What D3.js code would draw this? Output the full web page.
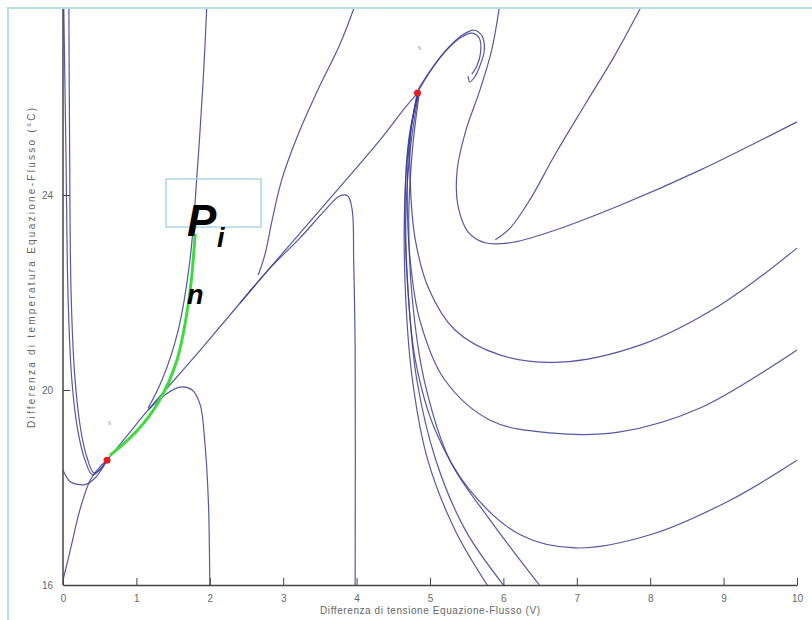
<!DOCTYPE html>
<html><head><meta charset="utf-8">
<script src="https://cdn.jsdelivr.net/npm/d3@7"></script>
<style>body{margin:0;background:#fff}svg{display:block}</style>
</head><body>
<svg id="c" width="812" height="620"></svg>
<script>
// ---- data (x: difference, y: temperature difference) ----
const xTicks = [0,1,2,3,4,5,6,7,8,9,10];
const yTicks = [16,20,24];
const xTickLabels = ["0","1","2","3","4","5","6","7","8","9","10"];
const yTickLabels = ["16","20","24"];
const equilibria = [[0.60,18.56],[4.83,26.09]];
const greenSegment = [[0.64,18.66],[1.00,19.15],[1.30,19.75],[1.55,20.60],[1.72,21.90],[1.80,23.20]];
const curveLeftTop = [[0.01,27.9],[0.04,24.9],[0.07,21.85],[0.12,20.21],[0.20,19.18],[0.30,18.56],[0.40,18.26],[0.50,18.36],[0.60,18.56]];
const curveLeftTop2 = [[0.08,27.9],[0.09,25.0],[0.11,22.0],[0.16,20.3],[0.24,19.2],[0.33,18.6],[0.42,18.3],[0.52,18.4],[0.60,18.56]];
const curveLeftHook = [[0.0,18.36],[0.10,18.12],[0.30,18.06],[0.44,18.20],[0.60,18.56]];
const curveBottomLeft = [[0.0,16.1],[0.10,16.72],[0.23,17.54],[0.37,18.15],[0.50,18.42],[0.60,18.56]];
const mainLine = [[0.60,18.56],[0.91,19.13],[1.16,19.59],[1.87,20.82],[2.68,22.26],[3.50,23.69],[4.32,25.13],[4.66,25.79],[4.83,26.09]];
const curveTop2 = [[1.96,27.9],[1.91,26.36],[1.83,24.51],[1.73,22.67],[1.57,21.23],[1.35,20.21],[1.16,19.63]];
const humpLow = [[1.16,19.59],[1.39,19.9],[1.59,20.06],[1.76,20.0],[1.87,19.69],[1.93,18.97],[1.98,17.74],[2.00,16.0]];
const humpHigh = [[2.41,21.78],[2.82,22.50],[3.23,23.12],[3.57,23.69],[3.77,23.98],[3.88,23.98],[3.94,23.69],[3.96,22.67],[3.98,20.82],[3.98,16.0]];
const curveTop4 = [[3.98,27.9],[3.77,27.08],[3.47,26.15],[3.20,25.23],[2.98,24.31],[2.85,23.49],[2.75,22.77],[2.66,22.36]];
const spiral = [[4.84,26.17],[5.03,26.61],[5.25,27.02],[5.44,27.28],[5.60,27.38],[5.71,27.26],[5.74,26.97],[5.68,26.65],[5.60,26.40],[5.54,26.32],[5.52,26.44]];
const spiral2 = [[4.81,26.05],[4.97,26.46],[5.20,26.93],[5.41,27.22],[5.57,27.32],[5.67,27.22],[5.69,26.93],[5.64,26.65],[5.57,26.48]];
const fan1 = [[5.95,27.9],[5.84,26.97],[5.68,26.15],[5.49,25.33],[5.37,24.51],[5.38,23.79],[5.52,23.24],[5.75,23.02],[6.09,23.02],[6.63,23.24],[7.59,23.79],[8.68,24.51],[10.0,25.5]];
const curveTop5 = [[7.89,27.9],[7.52,26.87],[7.11,25.85],[6.70,24.82],[6.36,23.90],[6.09,23.32],[5.89,23.08]];
const fan2 = [[4.84,26.11],[4.74,25.33],[4.73,24.31],[4.80,23.08],[4.99,22.05],[5.34,21.23],[5.95,20.72],[6.77,20.57],[7.86,20.92],[8.95,21.74],[10.0,22.91]];
const fan3 = [[4.84,26.11],[4.73,25.23],[4.69,24.10],[4.73,22.67],[4.86,21.44],[5.20,20.21],[5.82,19.38],[6.63,19.12],[7.59,19.14],[8.68,19.63],[10.0,20.82]];
const fan4 = [[4.84,26.11],[4.71,25.13],[4.66,23.90],[4.69,22.26],[4.80,20.62],[5.07,19.18],[5.54,17.95],[6.23,17.03],[6.98,16.76],[8.00,17.03],[9.09,17.74],[10.0,18.56]];
const fan5 = [[4.82,26.05],[4.70,24.92],[4.65,23.49],[4.67,21.85],[4.76,20.21],[4.97,18.56],[5.34,17.13],[5.78,16.0]];
const fan6 = [[4.84,26.05],[4.73,24.92],[4.67,23.49],[4.71,21.85],[4.82,20.21],[5.08,18.56],[5.48,17.13],[6.0,16.0]];
const fan7 = [[4.85,26.05],[4.76,24.92],[4.71,23.49],[4.76,21.85],[4.92,20.21],[5.27,18.56],[5.82,17.33],[6.49,16.0]];
const curves = [curveLeftTop,curveLeftTop2,curveLeftHook,curveBottomLeft,mainLine,curveTop2,humpLow,humpHigh,curveTop4,spiral,spiral2,fan1,curveTop5,fan2,fan3,fan4,fan5,fan6,fan7];
const xLabel = "Differenza di tensione Equazione-Flusso (V)";
const yLabel = "Differenza di temperatura Equazione-Flusso (°C)";

// ---- drawing ----
const svg = d3.select("#c");
const W=812,H=620;
const x = d3.scaleLinear().domain([0,10]).range([63,797]);
const y = d3.scaleLinear().domain([16,28]).range([585,0]);

svg.append("rect").attr("x",8).attr("y",8).attr("width",W).attr("height",H)
  .attr("fill","none").attr("stroke","#b9dde5").attr("stroke-width",2);

svg.append("defs").append("clipPath").attr("id","clip")
  .append("rect").attr("x",x(0)).attr("y",9).attr("width",x(10)-x(0)+2).attr("height",y(16)-9);

const g = svg.append("g").attr("clip-path","url(#clip)");
const line = d3.line().x(d=>x(d[0])).y(d=>y(d[1])).curve(d3.curveCatmullRom.alpha(0.5));
g.selectAll("path.c").data(curves).join("path").attr("class","c")
  .attr("d",line).attr("fill","none").attr("stroke","#3a3a96").attr("stroke-width",1.2).attr("stroke-opacity",0.85);
g.append("path").datum(greenSegment).attr("d",line).attr("fill","none")
  .attr("stroke","#3ddc3d").attr("stroke-width",3);
g.selectAll("circle.eq").data(equilibria).join("circle").attr("class","eq")
  .attr("cx",d=>x(d[0])).attr("cy",d=>y(d[1])).attr("r",3.5).attr("fill","#e02020");

const f = "Liberation Sans, Arial";
const xa = svg.append("g").attr("transform",`translate(0,${y(16)})`)
  .call(d3.axisBottom(x).tickValues(xTicks).tickFormat((d,i)=>xTickLabels[i]).tickSizeInner(-7).tickSizeOuter(0).tickPadding(10));
const ya = svg.append("g").attr("transform",`translate(${x(0)},0)`)
  .call(d3.axisLeft(y).tickValues(yTicks).tickFormat((d,i)=>yTickLabels[i]).tickSizeInner(-7).tickSizeOuter(0).tickPadding(10));
[xa,ya].forEach(a=>{a.select(".domain").attr("stroke","#444").attr("stroke-width",1.5);
  a.selectAll(".tick line").attr("stroke","#444");
  a.selectAll("text").attr("fill","#666").attr("font-size",10).attr("font-family",f);});
ya.select(".domain").attr("d",`M0,${y(16)}V9`);

svg.append("text").attr("x",430).attr("y",614).attr("text-anchor","middle")
  .attr("font-size",10).attr("fill","#666").attr("font-family",f)
  .attr("textLength",220).attr("lengthAdjust","spacing").text(xLabel);
svg.append("text").attr("transform","translate(35,268) rotate(-90)").attr("text-anchor","middle")
  .attr("font-size",10).attr("fill","#666").attr("font-family",f)
  .attr("textLength",320).attr("lengthAdjust","spacing").text(yLabel);

// small labels near equilibria
svg.append("text").attr("x",108).attr("y",425).attr("font-size",8).attr("fill","#999").text("s");
svg.append("text").attr("x",418).attr("y",50).attr("font-size",8).attr("fill","#999").text("s");

// P_in annotation
svg.append("rect").attr("x",166).attr("y",179).attr("width",95).attr("height",48)
  .attr("fill","none").attr("stroke","#aed6df").attr("stroke-width",1.5);
svg.append("text").attr("x",187).attr("y",236).attr("font-size",44).attr("font-weight","bold").attr("font-style","italic").attr("font-family",f).text("P");
svg.append("text").attr("x",217).attr("y",247).attr("font-size",27).attr("font-weight","bold").attr("font-style","italic").attr("font-family",f).text("i");
svg.append("text").attr("x",187).attr("y",304).attr("font-size",27).attr("font-weight","bold").attr("font-style","italic").attr("font-family",f).text("n");
</script>
</body></html>
